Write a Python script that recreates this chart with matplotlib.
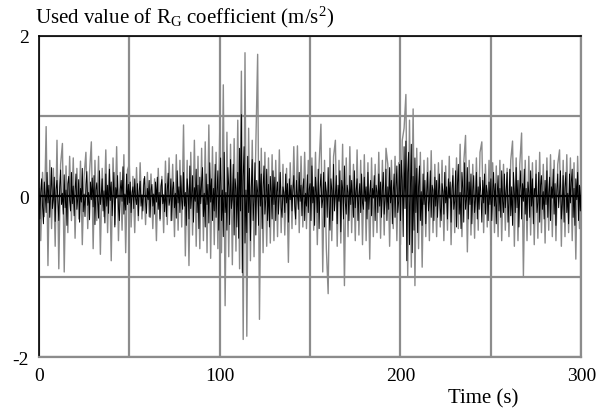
import numpy as np
import matplotlib
matplotlib.use("Agg")
import matplotlib.pyplot as plt

plt.rcParams['font.family'] = ['Liberation Serif', 'DejaVu Serif']
plt.rcParams['mathtext.fontset'] = 'custom'
plt.rcParams['mathtext.rm'] = 'Liberation Serif'
plt.rcParams['mathtext.it'] = 'Liberation Serif:italic'
plt.rcParams['axes.unicode_minus'] = False

# grey trace, one value per second (0..300 s)
rg_grey = [
    0.42, -0.55, 0.30, -0.25, 0.87, -0.86, 0.45, -0.40, 0.35, -0.62,
    0.70, -0.90, 0.40, 0.66, -0.94, 0.38, -0.45, 0.50, -0.30, 0.48,
    -0.52, 0.35, -0.28, 0.44, -0.60, 0.25, 0.55, -0.40, 0.30, 0.68,
    -0.65, 0.45, -0.30, 0.50, -0.72, 0.35, -0.25, 0.58, -0.45, 0.40,
    -0.80, 0.48, -0.35, 0.62, -0.55, 0.30, -0.42, 0.52, -0.70, 0.33,
    0.40, -0.38, 0.25, -0.45, 0.36, -0.30, 0.42, -0.28, 0.22, -0.35,
    0.30, -0.25, 0.28, -0.40, 0.22, -0.55, 0.35, -0.30, 0.25, -0.45,
    0.44, -0.35, 0.48, -0.30, 0.40, -0.50, 0.52, -0.42, 0.45, -0.38,
    0.89, -0.74, 0.45, -0.86, 0.55, -0.48, 0.70, -0.62, 0.50, -0.65,
    0.60, -0.55, 0.68, -0.70, 0.89, -0.77, 0.62, -0.60, 0.55, -0.65,
    0.79, -0.70, 1.39, -1.36, 0.80, -0.75, 0.65, -0.85, 0.72, -0.68,
    0.95, -0.90, 1.56, -1.78, 1.79, -1.74, 0.85, -0.80, 0.70, -0.75,
    0.65, 1.77, -1.53, 0.60, -0.70, 0.55, -0.62, 0.48, -0.58, 0.52,
    -0.55, 0.45, -0.50, 0.58, -0.45, 0.40, -0.48, 0.35, -0.82, 0.42,
    -0.40, 0.62, -0.35, 0.63, -0.45, 0.50, -0.38, 0.55, -0.40, 0.45,
    -0.50, 0.48, -0.42, 0.55, -0.60, 0.40, 0.90, -0.94, 0.45, -0.65,
    -1.21, 0.60, -0.55, 0.50, 0.70, -0.62, 0.45, -0.58, 0.65, -1.11,
    0.48, -0.50, 0.62, -0.45, 0.40, -0.55, 0.58, -0.48, 0.45, -0.60,
    0.52, -0.55, 0.42, -0.78, 0.48, -0.50, 0.40, -0.45, 0.55, -0.52,
    0.45, -0.48, 0.60, 0.40, -0.62, 0.45, -0.40, 0.50, -0.55, 0.42,
    -0.60, 0.70, 0.85, 1.27, -0.99, 0.95, -0.88, 1.09, -1.11, 0.60,
    -0.65, 0.55, -0.88, 0.45, -0.50, 0.48, -0.55, 0.57, -0.45, 0.40,
    -0.50, 0.42, -0.38, 0.45, -0.55, 0.38, -0.42, 0.50, -0.60, 0.35,
    -0.45, 0.48, -0.40, 0.65, -0.50, 0.42, 0.76, -0.69, 0.45, -0.48,
    0.40, -0.52, 0.48, -0.42, 0.55, 0.68, -0.45, 0.40, -0.38, 0.45,
    -0.60, 0.42, -0.45, 0.38, -0.50, 0.45, -0.55, 0.40, -0.42, 0.35,
    -0.50, 0.45, 0.69, -0.62, 0.48, -0.55, 0.40, 0.79, -1.00, 0.45,
    -0.55, 0.50, -0.48, 0.42, -0.60, 0.45, -0.52, 0.55, -0.45, 0.40,
    -0.58, 0.48, -0.42, 0.52, -0.50, 0.45, -0.55, 0.40, 0.58, -0.62,
    0.45, -0.50, 0.52, -0.45, 0.48, -0.55, 0.42, -0.78, 0.50, -0.40,
    0.35,
]

# black trace, one value every 0.5 s
rg_black = [
    0.10, -0.28, 0.05, 0.22, -0.12, -0.34, 0.18, 0.02, -0.20, 0.30, -0.08, 0.14, -0.26, 0.06, 0.36, -0.15, -0.04, 0.24, -0.31, 0.09,
    0.20, -0.06, -0.30, 0.12, 0.33, -0.10, 0.04, -0.22, 0.27, -0.14, 0.08, -0.36, 0.16, 0.25, -0.05, -0.18, 0.30, -0.09, 0.13, -0.24,
    0.06, 0.28, -0.16, -0.02, 0.21, -0.32, 0.10, -0.07, 0.35, -0.19, 0.03, -0.25, 0.15, 0.31, -0.11, 0.05, -0.29, 0.18, -0.04, 0.23,
    -0.13, 0.26, -0.35, 0.08, 0.17, -0.06, -0.27, 0.32, -0.10, 0.02, 0.22, -0.18, 0.07, -0.33, 0.28, -0.12, 0.14, -0.21, 0.34, -0.05,
    0.18, -0.24, 0.04, 0.30, -0.38, 0.11, -0.02, 0.26, -0.14, -0.30, 0.09, 0.20, -0.06, 0.37, -0.22, 0.03, -0.17, 0.28, -0.10, 0.15,
    -0.08, 0.18, -0.20, 0.05, 0.12, -0.15, 0.22, -0.03, -0.10, 0.16, -0.24, 0.07, 0.19, -0.12, 0.02, -0.18, 0.14, 0.25, -0.06, -0.21,
    0.10, -0.04, 0.20, -0.26, 0.08, 0.15, -0.12, 0.03, -0.22, 0.18, -0.07, 0.24, -0.16, 0.05, -0.28, 0.13, 0.21, -0.09, 0.02, -0.19,
    0.16, -0.25, 0.06, 0.29, -0.11, -0.03, 0.22, -0.30, 0.09, 0.18, -0.14, 0.04, -0.27, 0.32, -0.08, 0.12, -0.20, 0.26, -0.05, -0.16,
    0.30, -0.12, 0.05, -0.36, 0.22, 0.08, -0.28, 0.38, -0.15, 0.02, 0.26, -0.32, 0.11, -0.06, 0.34, -0.20, 0.14, -0.40, 0.24, -0.09,
    0.18, 0.36, -0.25, 0.04, -0.38, 0.28, -0.10, 0.15, -0.33, 0.42, -0.07, 0.22, -0.30, 0.10, -0.18, 0.40, -0.26, 0.06, 0.32, -0.42,
    0.14, 0.48, -0.30, 0.08, -0.50, 0.55, -0.20, 0.05, -0.42, 0.36, 0.12, -0.35, 0.46, -0.15, -0.04, 0.40, -0.48, 0.22, 0.10, -0.38,
    0.30, -0.52, 0.60, -0.18, 1.02, -0.95, 0.25, 0.62, -0.58, 0.08, -0.45, 0.50, -0.20, 0.35, -0.55, 0.12, 0.46, -0.30, -0.06, 0.42,
    -0.48, 0.20, 0.05, -0.36, 0.44, -0.12, 0.28, -0.40, 0.10, 0.38, -0.22, -0.04, 0.34, -0.30, 0.15, -0.38, 0.25, 0.06, -0.28, 0.32,
    -0.10, 0.24, -0.30, 0.06, 0.18, -0.22, 0.02, 0.30, -0.14, -0.26, 0.12, 0.05, -0.20, 0.28, -0.08, 0.16, -0.32, 0.22, -0.04, 0.14,
    -0.18, 0.08, 0.26, -0.12, -0.28, 0.20, 0.03, -0.16, 0.30, -0.06, 0.14, -0.24, 0.10, 0.22, -0.30, 0.04, -0.12, 0.27, -0.20, 0.09,
    0.16, -0.30, 0.38, -0.08, 0.12, -0.36, 0.24, 0.05, -0.20, 0.34, -0.40, 0.10, 0.28, -0.14, -0.04, 0.30, -0.38, 0.18, 0.06, -0.26,
    0.36, -0.12, -0.42, 0.22, 0.08, -0.30, 0.40, -0.18, 0.02, 0.26, -0.34, 0.14, -0.06, 0.32, -0.44, 0.20, 0.10, -0.28, 0.38, -0.08,
    -0.22, 0.14, 0.05, -0.30, 0.26, -0.10, 0.20, -0.04, -0.26, 0.32, -0.14, 0.08, 0.22, -0.30, 0.02, 0.16, -0.20, 0.28, -0.08, -0.16,
    0.24, -0.06, 0.12, -0.28, 0.30, -0.16, 0.04, 0.20, -0.24, 0.10, -0.02, 0.26, -0.30, 0.14, 0.06, -0.20, 0.28, -0.12, 0.18, -0.26,
    0.08, 0.30, -0.22, -0.05, 0.34, -0.30, 0.12, -0.16, 0.36, -0.08, 0.20, -0.34, 0.04, 0.28, -0.26, 0.10, 0.38, -0.20, -0.06, 0.40,
    -0.30, 0.45, 0.20, -0.50, 0.62, -0.15, 0.69, -0.80, 0.30, 0.55, -0.60, 0.10, 0.65, -0.70, 0.25, -0.42, 0.48, -0.20, 0.35, -0.45,
    0.12, 0.38, -0.30, 0.06, -0.36, 0.28, -0.10, 0.20, -0.34, 0.04, 0.30, -0.18, -0.06, 0.32, -0.26, 0.14, 0.08, -0.30, 0.24, -0.12,
    0.20, -0.26, 0.04, 0.28, -0.14, -0.30, 0.16, 0.06, -0.22, 0.30, -0.08, 0.12, -0.28, 0.22, -0.02, 0.18, -0.32, 0.10, 0.26, -0.16,
    -0.06, 0.32, -0.38, 0.14, 0.40, -0.22, 0.05, -0.40, 0.30, 0.10, -0.32, 0.42, -0.16, -0.04, 0.36, -0.28, 0.18, -0.10, 0.28, -0.34,
    0.08, 0.26, -0.20, -0.04, 0.30, -0.28, 0.12, -0.16, 0.24, 0.02, -0.32, 0.20, -0.08, 0.28, -0.22, 0.14, 0.05, -0.30, 0.18, -0.10,
    0.22, -0.30, 0.06, 0.30, -0.12, 0.16, -0.34, 0.02, 0.26, -0.18, 0.10, -0.26, 0.32, -0.06, -0.20, 0.28, -0.14, 0.08, 0.30, -0.32,
    -0.08, 0.34, -0.24, 0.12, -0.36, 0.30, 0.04, -0.20, 0.36, -0.14, 0.20, -0.38, 0.08, 0.32, -0.28, 0.16, -0.06, 0.34, -0.22, 0.10,
    -0.30, 0.18, 0.05, -0.26, 0.32, -0.12, 0.22, -0.34, 0.10, 0.02, 0.28, -0.20, -0.08, 0.30, -0.32, 0.14, 0.26, -0.16, 0.06, -0.28,
    0.20, -0.10, 0.32, -0.26, 0.04, 0.24, -0.30, 0.12, -0.02, 0.34, -0.22, 0.16, -0.36, 0.08, 0.28, -0.14, 0.06, 0.32, -0.28, -0.10,
    0.26, -0.32, 0.12, 0.30, -0.20, 0.04, -0.34, 0.28, -0.08, 0.18, 0.34, -0.26, 0.10, -0.36, 0.22, -0.04, 0.30, -0.30, 0.14, -0.18,
    0.12,
]

x_major = [0, 100, 200, 300]
x_minor = [50, 150, 250]
y_major = [-2, 0, 2]
y_minor = [-1, 1]

t_grey = np.arange(len(rg_grey)) * 1.0
t_black = np.arange(len(rg_black)) * 0.5

fig = plt.figure(figsize=(6.08, 4.14), dpi=100)
ax = fig.add_axes([0.064, 0.135, 0.892, 0.776])

ax.plot(t_grey, rg_grey, color='#8a8a8a', lw=1.0, zorder=2)
ax.plot(t_black, rg_black, color='black', lw=0.7, zorder=3)
ax.axhline(0, color='black', lw=1.6, zorder=4)

ax.set_xlim(0, 300)
ax.set_ylim(-2, 2)
ax.set_xticks(x_major)
ax.set_xticks(x_minor, minor=True)
ax.set_yticks(y_major)
ax.set_yticks(y_minor, minor=True)
ax.set_yticklabels([str(v) for v in y_major])
ax.tick_params(which='both', length=0, labelsize=14, pad=7)
ax.grid(True, which='both', color='#8c8c8c', lw=1.6, zorder=1)
ax.set_axisbelow(True)

for side in ['top', 'left']:
    ax.spines[side].set_color('black')
    ax.spines[side].set_linewidth(1.2)
for side in ['right', 'bottom']:
    ax.spines[side].set_color('#8c8c8c')
    ax.spines[side].set_linewidth(1.6)

fig.text(0.058, 0.958, r'Used value of R$_{\mathrm{G}}$ coefficient (m/s$^{2}$)',
         fontsize=15, ha='left', va='center')
fig.text(0.794, 0.036, 'Time (s)', fontsize=15, ha='center', va='center')

fig.savefig('out.png', dpi=100)
